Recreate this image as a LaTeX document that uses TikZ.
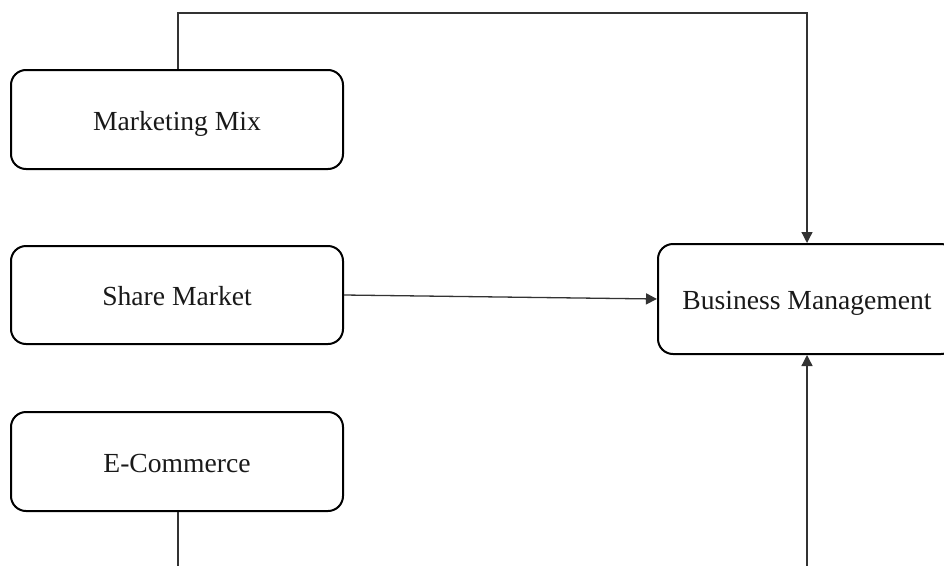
\documentclass[tikz,border=0pt]{standalone}
\usepackage{fontspec}
\setmainfont{Liberation Serif}
\usetikzlibrary{arrows.meta}
\begin{document}
\begin{tikzpicture}[x=1pt,y=-1pt,
  box/.style={draw=black, line width=2pt, rounded corners=15pt, inner sep=0pt,
    text height=21pt, text depth=0pt,
    font=\fontsize{27.6}{32}\selectfont, text=black!90},
  conn/.style={draw=black!80, line width=1.3pt},
  arr/.style={conn, -{Triangle[length=11pt,width=11pt]}}]
\useasboundingbox (0,0) rectangle (944,565);
\clip (0,0) rectangle (944,565);
\node[box, minimum width=332pt, minimum height=99pt] (mm) at (177,119.5) {Marketing Mix};
\node[box, minimum width=332pt, minimum height=98pt] (sm) at (177,295) {Share Market};
\node[box, minimum width=332pt, minimum height=99pt] (ec) at (177,461.5) {E-Commerce};
\node[box, minimum width=298pt, minimum height=110pt] (bm) at (807,299) {Business Management};
\coordinate (t1) at (178,13);
\coordinate (t2) at (807,13);
\coordinate (b1) at (178,570);
\coordinate (b2) at (807,570);
\draw[arr] (mm.north -| t1) -- (t1) -- (t2) -- (bm.north);
\draw[arr] (sm.east) -- (bm.west);
\draw[conn] (ec.south -| b1) -- (b1);
\draw[arr] (b2) -- (bm.south);
\end{tikzpicture}
\end{document}
